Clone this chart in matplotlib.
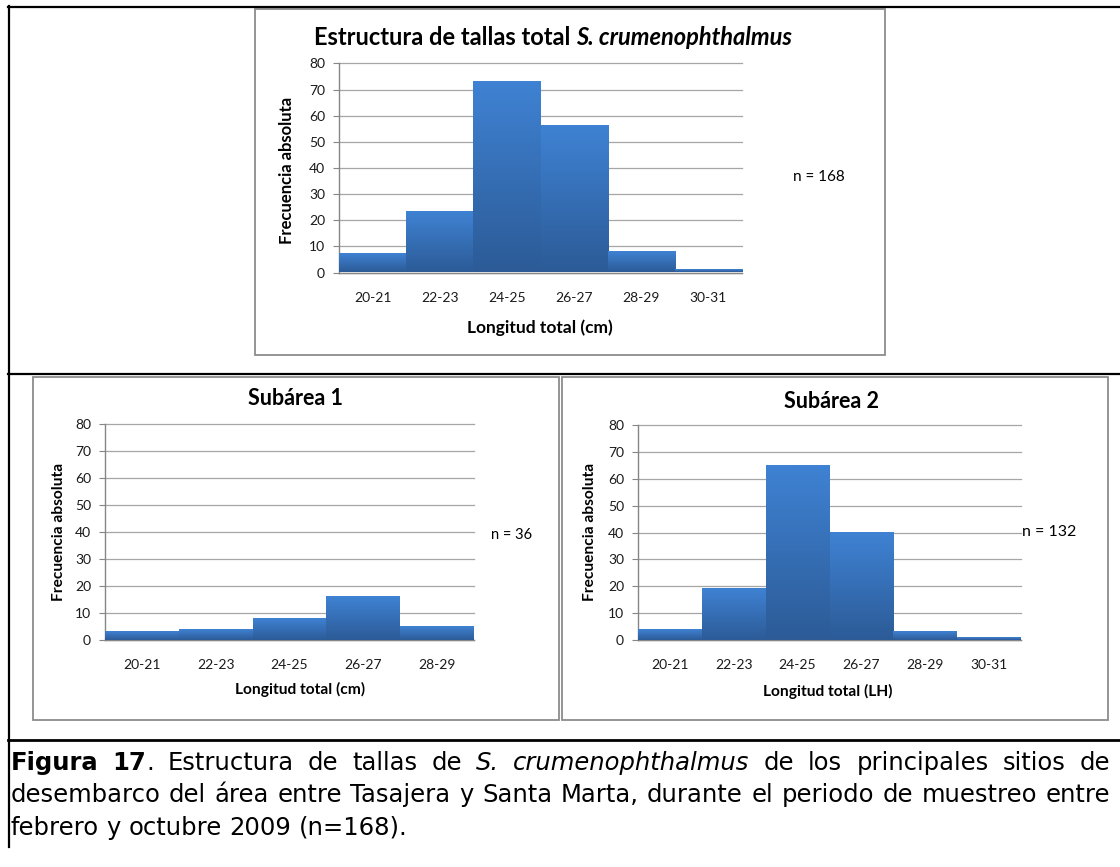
import matplotlib
matplotlib.use('Agg')
import matplotlib.pyplot as plt
import numpy as np
from matplotlib.colors import LinearSegmentedColormap
from matplotlib.lines import Line2D
from matplotlib.patches import Rectangle

W, H = 1120, 867

bins_total = ['20-21', '22-23', '24-25', '26-27', '28-29', '30-31']
freq_total = [7, 23, 73, 56, 8, 1]
bins_sub1 = ['20-21', '22-23', '24-25', '26-27', '28-29']
freq_sub1 = [3, 4, 8, 16, 5]
bins_sub2 = ['20-21', '22-23', '24-25', '26-27', '28-29', '30-31']
freq_sub2 = [4, 19, 65, 40, 3, 1]
y_ticks = [0, 10, 20, 30, 40, 50, 60, 70, 80]

CHART_FONT = ['Lato', 'DejaVu Sans']
CAPTION_FONT = ['DejaVu Sans']
BAR_CMAP = LinearSegmentedColormap.from_list('bar', ['#2c5b97', '#3f82d3'])
GRID = '#a6a6a6'
AXIS = '#868686'

plt.rcParams['font.family'] = CHART_FONT

fig = plt.figure(figsize=(W / 100, H / 100), dpi=100)
renderer = fig.canvas.get_renderer()


def fx(x):
    return x / W


def fy(y):
    return 1 - y / H


def add_axes_px(left, top, right, bottom):
    return fig.add_axes([left / W, 1 - bottom / H, (right - left) / W, (bottom - top) / H])


def histogram(ax, labels, values):
    # bars with the Excel-like vertical gradient
    grad = np.linspace(0, 1, 128).reshape(-1, 1)
    for i, v in enumerate(values):
        ax.imshow(grad, extent=(i, i + 1, 0, v), origin='lower', aspect='auto',
                  cmap=BAR_CMAP, zorder=3, interpolation='bilinear')
    ax.set_xlim(0, len(values))
    ax.set_ylim(0, 80)
    ax.set_yticks(y_ticks)
    ax.set_xticks(np.arange(len(labels)) + 0.5)
    ax.set_xticklabels(labels)
    ax.yaxis.grid(True, color=GRID, lw=0.9)
    for gl in ax.get_ygridlines():
        gl.set_clip_on(False)
    ax.set_axisbelow(True)
    ax.patch.set_visible(False)
    for side in ('top', 'right'):
        ax.spines[side].set_visible(False)
    for side in ('left', 'bottom'):
        ax.spines[side].set_color(AXIS)
        ax.spines[side].set_linewidth(1.0)
    ax.tick_params(axis='y', length=4, color=AXIS, direction='out', pad=6,
                   labelsize=10, labelcolor='#1a1a1a')
    ax.tick_params(axis='x', length=0, pad=14, labelsize=10, labelcolor='#1a1a1a')


def measure(runs, size, family):
    widths = []
    for text, weight, style in runs:
        t = fig.text(0, 0, text, fontsize=size, fontweight=weight, fontstyle=style, family=family)
        widths.append(t.get_window_extent(renderer).width)
        t.remove()
    return widths


def space_width(size, family, weight='normal'):
    a, b = measure([('a a', weight, 'normal'), ('aa', weight, 'normal')], size, family)
    return a - b


def place(runs, widths, x, y, size, family, **kw):
    for (text, weight, style), w in zip(runs, widths):
        fig.text(fx(x), fy(y), text, fontsize=size, fontweight=weight, fontstyle=style,
                 family=family, ha='left', va='baseline', **kw)
        x += w
    return x


def label(x, y, text, size, weight='normal', rotation=0):
    fig.text(fx(x), fy(y), text, fontsize=size, fontweight=weight, rotation=rotation,
             ha='center', va='center', color='black')


def frame(left, top, right, bottom):
    fig.add_artist(Rectangle((fx(left), fy(bottom)), (right - left) / W, (bottom - top) / H,
                             transform=fig.transFigure, fill=False, ec='#8c8c8c', lw=1.3))


def hline(y, x0, x1, lw=1.6):
    fig.add_artist(Line2D([fx(x0), fx(x1)], [fy(y), fy(y)], color='black', lw=lw))


# --- table borders and chart frames ---
hline(6.5, 8, W)
hline(374, 8, W)
hline(739.5, 8, W, lw=2)
fig.add_artist(Line2D([fx(8.5), fx(8.5)], [fy(6), fy(847)], color='black', lw=1.6))
frame(255, 9, 885, 355)
frame(33, 377, 559, 720)
frame(562, 377, 1108, 720)

# --- top chart: total ---
ax = add_axes_px(339, 63.5, 742, 272.5)
histogram(ax, bins_total, freq_total)
title_size = 17
title_runs = [('Estructura de tallas total', 'bold', 'normal'), ('S. crumenophthalmus', 'bold', 'italic')]
tw = measure(title_runs, title_size, CHART_FONT)
sp = space_width(title_size, CHART_FONT, 'bold')
x0 = 553 - (sum(tw) + sp) / 2
fig.text(fx(x0), fy(45), title_runs[0][0], fontsize=title_size, fontweight='bold',
         ha='left', va='baseline')
fig.text(fx(x0 + tw[0] + sp), fy(45), title_runs[1][0], fontsize=title_size, fontweight='bold',
         fontstyle='italic', ha='left', va='baseline')
label(287, 170, 'Frecuencia absoluta', 12, 'bold', 90)
label(540, 328, 'Longitud total (cm)', 12.5, 'bold')
label(819, 177, 'n = 168', 11)

# --- Subárea 1 ---
ax1 = add_axes_px(105, 424, 474, 640)
histogram(ax1, bins_sub1, freq_sub1)
label(295, 399, 'Subárea 1', 15.5, 'bold')
label(59, 532, 'Frecuencia absoluta', 11.2, 'bold', 90)
label(300, 689, 'Longitud total (cm)', 11.2, 'bold')
label(512, 535, 'n = 36', 10.5)

# --- Subárea 2 ---
ax2 = add_axes_px(638, 425, 1021, 640)
histogram(ax2, bins_sub2, freq_sub2)
label(832, 401, 'Subárea 2', 15.5, 'bold')
label(590, 532, 'Frecuencia absoluta', 11.2, 'bold', 90)
label(828, 691, 'Longitud total (LH)', 11.2, 'bold')
label(1049, 532, 'n = 132', 11.5)

# --- caption (justified like the document) ---
N, B, I = ('normal', 'normal'), ('bold', 'normal'), ('normal', 'italic')


def words(text, style=N):
    return [[(w, *style)] for w in text.split()]


line1 = ([[('Figura', *B)], [('17', *B), ('.', *N)]] + words('Estructura de tallas de')
         + words('S. crumenophthalmus', I) + words('de los principales sitios de'))
line2 = words('desembarco del área entre Tasajera y Santa Marta, durante el periodo de muestreo entre')
line3 = words('febrero y octubre 2009 (n=168).')

left, right = 10.5, 1110
ref = sum(sum(measure(w, 10, CAPTION_FONT)) for w in line2) + (len(line2) - 1) * space_width(10, CAPTION_FONT)
cap_size = 10 * 1088 / ref
cap_space = space_width(cap_size, CAPTION_FONT)

for line, base, justify in [(line1, 770, True), (line2, 802, True), (line3, 835, False)]:
    widths = [measure(w, cap_size, CAPTION_FONT) for w in line]
    total = sum(sum(w) for w in widths)
    gap = (right - left - total) / (len(line) - 1) if justify else cap_space
    x = left
    for w, ws in zip(line, widths):
        x = place(w, ws, x, base, cap_size, CAPTION_FONT, color='black') + gap

fig.savefig('out.png', dpi=100)
